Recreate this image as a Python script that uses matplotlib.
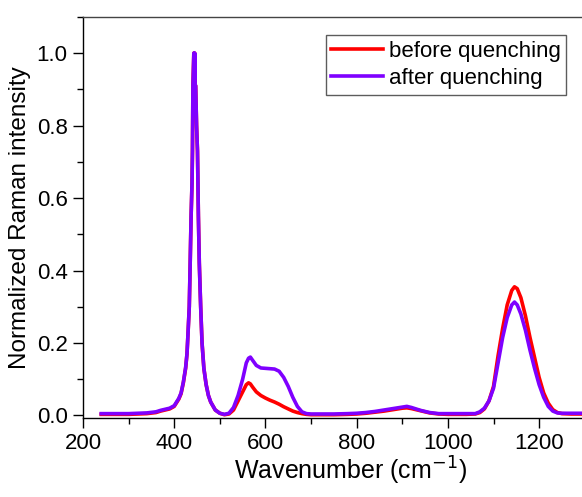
import matplotlib
matplotlib.use('Agg')
import matplotlib.pyplot as plt
from matplotlib.ticker import MultipleLocator

plt.rcParams['font.family'] = ['Liberation Sans', 'DejaVu Sans']

wavenumber = [240, 260, 280, 300, 320, 340, 360, 370, 380, 390, 400, 410, 415, 420, 425,
              428, 430, 433, 435, 437, 439, 440, 441, 443, 444, 445, 446, 447, 449, 451,
              453, 455, 458, 461, 465, 470, 475, 480, 490, 500, 510, 520, 530, 540, 550, 558,
              563, 567, 572, 580, 590, 600, 610, 620, 630, 640, 650, 660, 670, 680, 690,
              700, 720, 750, 780, 800, 820, 840, 860, 880, 900, 910, 920, 940, 960, 980,
              1000, 1020, 1040, 1060, 1070, 1080, 1090, 1100, 1110, 1120, 1130, 1140, 1146, 1152,
              1160, 1170, 1180, 1190, 1200, 1210, 1220, 1230, 1240, 1250, 1270, 1294]

before = [0.003, 0.003, 0.003, 0.003, 0.004, 0.005, 0.008, 0.012, 0.015, 0.018, 0.025, 0.045, 0.06, 0.09, 0.13,
          0.17, 0.22, 0.3, 0.42, 0.55, 0.64, 0.73, 0.91, 1.0, 0.93, 1.0, 0.91, 0.91, 0.8, 0.73,
          0.55, 0.42, 0.3, 0.2, 0.13, 0.085, 0.055, 0.037, 0.015, 0.006, 0.002, 0.004, 0.015, 0.04, 0.065, 0.085,
          0.09, 0.087, 0.078, 0.065, 0.055, 0.048, 0.042, 0.037, 0.031, 0.024, 0.018, 0.012, 0.008, 0.005, 0.003,
          0.002, 0.002, 0.002, 0.003, 0.004, 0.006, 0.009, 0.012, 0.016, 0.02, 0.021, 0.019, 0.013, 0.007, 0.004,
          0.003, 0.003, 0.003, 0.004, 0.008, 0.018, 0.04, 0.08, 0.165, 0.24, 0.305, 0.345, 0.355, 0.35,
          0.325, 0.275, 0.215, 0.16, 0.105, 0.062, 0.034, 0.016, 0.008, 0.005, 0.004, 0.004]

after = [0.005, 0.005, 0.005, 0.005, 0.006, 0.007, 0.01, 0.014, 0.017, 0.02, 0.027, 0.047, 0.062, 0.092, 0.132,
         0.17, 0.22, 0.3, 0.42, 0.55, 0.64, 0.73, 0.91, 1.0, 0.93, 1.0, 0.91, 0.91, 0.8, 0.73,
         0.55, 0.42, 0.3, 0.2, 0.13, 0.085, 0.055, 0.037, 0.015, 0.006, 0.003, 0.006, 0.022, 0.055, 0.1, 0.145,
         0.158, 0.161, 0.152, 0.138, 0.131, 0.13, 0.129, 0.128, 0.122, 0.105, 0.08, 0.05, 0.025, 0.01, 0.005,
         0.004, 0.004, 0.004, 0.005, 0.006, 0.008, 0.011, 0.015, 0.019, 0.023, 0.025, 0.022, 0.014, 0.008, 0.005,
         0.005, 0.005, 0.005, 0.005, 0.01, 0.02, 0.04, 0.075, 0.145, 0.215, 0.27, 0.305, 0.313, 0.305,
         0.28, 0.235, 0.18, 0.13, 0.085, 0.05, 0.025, 0.012, 0.007, 0.006, 0.006, 0.006]

fig = plt.figure(figsize=(5.82, 4.97), dpi=100)
ax = fig.add_axes([0.1426, 0.159, 0.8574, 0.807])

ax.plot(wavenumber, before, color='#ff0000', lw=2.6, label='before quenching')
ax.plot(wavenumber, after, color='#7f00ff', lw=2.6, label='after quenching')

ax.set_xlim(200, 1294)
ax.set_ylim(-0.007, 1.1)
ax.xaxis.set_major_locator(MultipleLocator(200))
ax.xaxis.set_minor_locator(MultipleLocator(100))
ax.yaxis.set_major_locator(MultipleLocator(0.2))
ax.yaxis.set_minor_locator(MultipleLocator(0.1))
ax.yaxis.set_major_formatter(plt.FormatStrFormatter('%.1f'))
ax.tick_params(which='major', direction='out', length=7, width=1, labelsize=16, pad=4)
ax.tick_params(which='minor', direction='out', length=4, width=1)
ax.spines['right'].set_visible(False)
for s in ['left', 'bottom', 'top']:
    ax.spines[s].set_linewidth(1.0)
ax.spines['top'].set_color('#444444')

# label positions taken from the reference layout
ax.set_xlabel('Wavenumber (cm$^{-1}$)', fontsize=18, va='center')
ax.set_ylabel('Normalized Raman intensity', fontsize=17.5, va='center')
ax.xaxis.set_label_coords(0.535, -0.133)
ax.yaxis.set_label_coords(-0.126, 0.5)

leg = ax.legend(loc='upper right', bbox_to_anchor=(0.968, 0.955), fontsize=16, frameon=True,
                fancybox=False, edgecolor='#333333', handlelength=2.3, handletextpad=0.27,
                borderpad=0.25, labelspacing=0.3, borderaxespad=0)
leg.get_frame().set_linewidth(1.0)

fig.savefig('out.png', dpi=100)
